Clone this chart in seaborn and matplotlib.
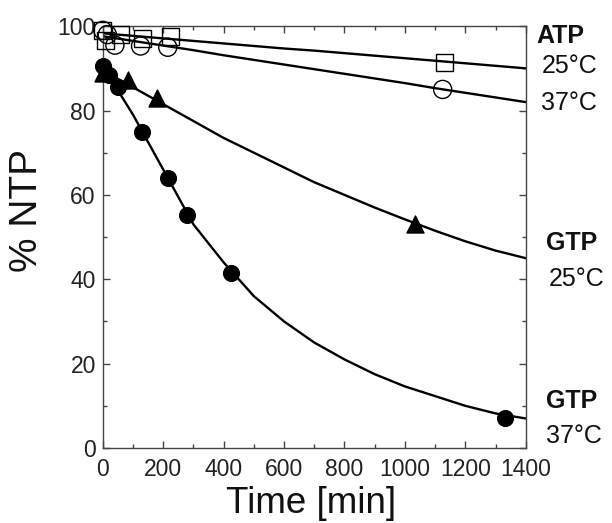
import matplotlib
matplotlib.use("Agg")
import matplotlib.pyplot as plt
import numpy as np
import pandas as pd
import seaborn as sns

# measured points, time [min] vs % NTP
atp25_t = [0, 10, 60, 130, 225, 1130]
atp25_y = [99, 96.5, 98, 97, 97.5, 91.4]
atp37_t = [0, 15, 40, 125, 215, 1125]
atp37_y = [99, 98, 95.5, 95.3, 95, 85]
gtp25_t = [0, 85, 180, 1035]
gtp25_y = [89, 87.3, 83, 53.2]
gtp37_t = [0, 20, 50, 130, 215, 280, 425, 1330]
gtp37_y = [90.5, 88.5, 85.5, 74.8, 64, 55.3, 41.5, 7.2]

# fitted curves
curve_t = [0, 100, 200, 300, 400, 500, 600, 700, 800, 900, 1000, 1100, 1200, 1300, 1400]
atp25_fit = [98.3, 97.7, 97.1, 96.5, 95.9, 95.3, 94.7, 94.2, 93.6, 93.0, 92.4, 91.8, 91.2, 90.6, 90.0]
atp37_fit = [97.6, 96.5, 95.4, 94.3, 93.1, 92.0, 90.9, 89.8, 88.7, 87.6, 86.5, 85.3, 84.2, 83.1, 82.0]
gtp25_fit = [89.5, 85.5, 81.5, 77.5, 73.5, 70.0, 66.5, 63.0, 60.0, 57.0, 54.2, 51.5, 49.0, 46.8, 45.0]
gtp37_fit = [90.5, 79.0, 66.0, 53.0, 44.0, 36.0, 30.0, 25.0, 21.0, 17.5, 14.6, 12.3, 10.0, 8.2, 7.0]

sns.set_theme(style="ticks")
plt.rcParams['font.family'] = ['Liberation Sans', 'DejaVu Sans']
plt.rcParams['text.color'] = '#111111'
plt.rcParams['axes.labelcolor'] = '#111111'
plt.rcParams['xtick.labelcolor'] = '#222222'
plt.rcParams['ytick.labelcolor'] = '#222222'

fig = plt.figure(figsize=(6.12, 5.23), dpi=100)
ax = fig.add_axes([0.168, 0.1434, 0.691, 0.8066])

for fit in [atp25_fit, atp37_fit, gtp25_fit, gtp37_fit]:
    sns.lineplot(x=curve_t, y=fit, ax=ax, color='black', linewidth=1.7)

sns.scatterplot(x=atp25_t, y=atp25_y, ax=ax, marker='s', s=150, facecolor='none',
                edgecolor='black', linewidth=1.0, clip_on=False, zorder=3)
sns.scatterplot(x=atp37_t, y=atp37_y, ax=ax, marker='o', s=170, facecolor='none',
                edgecolor='black', linewidth=1.0, clip_on=False, zorder=3)
sns.scatterplot(x=gtp25_t, y=gtp25_y, ax=ax, marker='^', s=150, color='black',
                edgecolor='black', clip_on=False, zorder=3)
sns.scatterplot(x=gtp37_t, y=gtp37_y, ax=ax, marker='o', s=130, color='black',
                edgecolor='black', clip_on=False, zorder=3)

ax.set_xlim(0, 1400)
ax.set_ylim(0, 100)
ax.set_xticks(np.arange(0, 1401, 200))
ax.set_xticks(np.arange(0, 1401, 100), minor=True)
ax.set_yticks(np.arange(0, 101, 20))
ax.set_yticks(np.arange(0, 101, 10), minor=True)
ax.tick_params(which='both', direction='in', top=True, right=True, color='#444444', width=1.0)
ax.tick_params(which='major', length=5)
ax.tick_params(which='minor', length=3)
ax.tick_params(axis='x', labelsize=16.5, pad=7)
ax.tick_params(axis='y', labelsize=16.5, pad=5)
for sp in ax.spines.values():
    sp.set_color('#444444')
    sp.set_linewidth(1.0)

ax.set_xlabel('Time [min]', fontsize=26.5)
ax.set_ylabel('% NTP', fontsize=28)
ax.xaxis.set_label_coords(0.493, -0.09)
ax.yaxis.set_label_coords(-0.136, 0.562)

labels = [
    (1.026, 0.976, 'ATP', 'bold'),
    (1.038, 0.905, '25°C', 'normal'),
    (1.035, 0.818, '37°C', 'normal'),
    (1.047, 0.486, 'GTP', 'bold'),
    (1.054, 0.400, '25°C', 'normal'),
    (1.047, 0.111, 'GTP', 'bold'),
    (1.047, 0.028, '37°C', 'normal'),
]
for x, y, txt, w in labels:
    ax.text(x, y, txt, transform=ax.transAxes, fontsize=18, fontweight=w,
            ha='left', va='center')

fig.savefig('out.png', dpi=100)
